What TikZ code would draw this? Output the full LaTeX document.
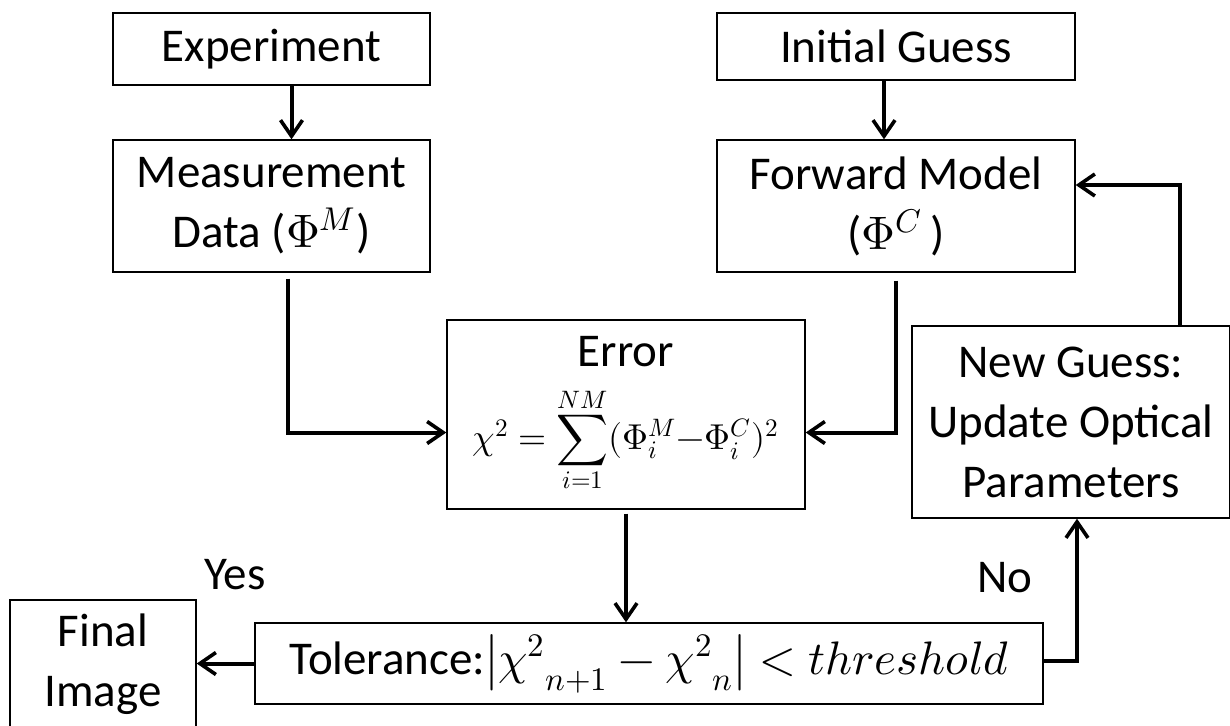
\documentclass[tikz,border=0pt]{standalone}
\usepackage{fontspec}
\usepackage{unicode-math}
\setmainfont{Carlito}
\setmathfont{Latin Modern Math}
\usetikzlibrary{arrows.meta}

\begin{document}
\begin{tikzpicture}[x=0.5pt, y=-0.5pt,
	box/.style={draw, line width=0.7pt, inner sep=0pt, align=center,
		font=\fontsize{23.5}{30}\selectfont},
	arr/.style={line width=2pt, -{Straight Barb[length=8pt,width=11pt,line width=1.8pt]}},
	lbl/.style={font=\fontsize{23.5}{30}\selectfont}]

	\useasboundingbox (0,0) rectangle (1230,725);

	% left column
	\node[box, minimum width=158.5pt, minimum height=36pt] (exp) at (271.5,49) {Experiment};
	\node[box, minimum width=158.5pt, minimum height=66pt] (meas) at (271.5,206) {Measurement\\Data ($\Phi^{M}$)};

	% right column
	\node[box, minimum width=179pt, minimum height=33.5pt] (init) at (896,46.5) {Initial Guess};
	\node[box, minimum width=179pt, minimum height=66pt] (fwd) at (896,206) {Forward Model\\($\Phi^{C}$\,)};

	% error
	\node[box, minimum width=179pt, minimum height=94.5pt] (err) at (626,414.5)
		{Error\\[9pt] {\fontsize{18}{22}\selectfont$\displaystyle \chi^2=\sum_{i=1}^{NM}(\Phi_i^M{-}\Phi_i^C)^2$}};

	% new guess
	\node[box, minimum width=159pt, minimum height=96pt] (newg) at (1071,422)
		{New Guess:\\Update Optical\\Parameters};

	% tolerance
	\node[box, minimum width=394pt, minimum height=40.5pt] (tol) at (649,663.5)
		{Tolerance:$\left|{\chi^{2}}_{n+1}-{\chi^{2}}_{n}\right|<threshold$};

	% final image
	\node[box, minimum width=93pt, minimum height=64pt] (final) at (103,664) {Final\\Image};

	% labels
	\node[lbl] (yes) at (235,575) {Yes};
	\node[lbl] (no) at (1005,578) {No};

	%draw arrows
	\draw[arr] ([xshift=10pt]exp.south) -- ([xshift=10pt]meas.north);
	\draw[arr] ([xshift=-6pt]init.south) -- ([xshift=-6pt]fwd.north);
	\draw[arr, shorten <=3pt] ([xshift=8pt]meas.south) |- ([yshift=-9pt]err.west);
	\draw[arr, shorten <=4pt] (fwd.south) |- ([yshift=-9pt]err.east);
	\draw[arr, shorten <=2pt] (err.south) -- (tol.north -| err.south);
	\draw[arr] (tol.west) -- (tol.west -| final.east);
	\draw[arr] ([yshift=1.5pt]tol.east) -| ([xshift=3pt]newg.south);
	\draw[arr] ([xshift=54.5pt]newg.north) |- ([yshift=10.5pt]fwd.east);

\end{tikzpicture}
\end{document}
